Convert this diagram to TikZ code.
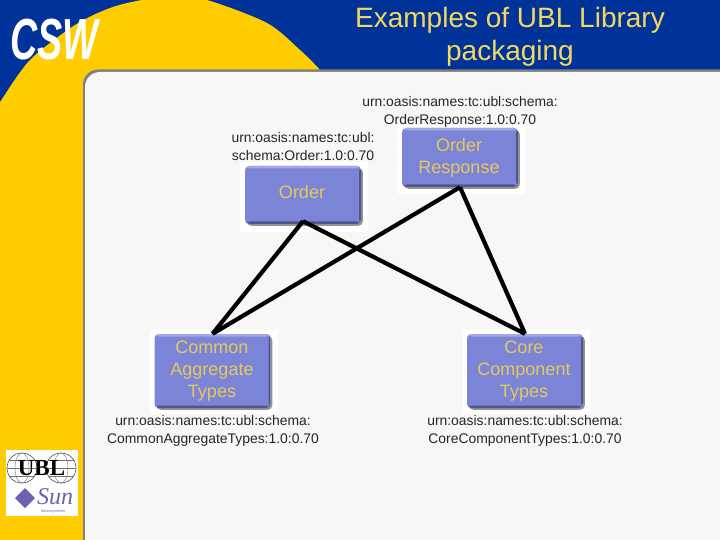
\documentclass[tikz,border=0pt]{standalone}
\usepackage{fontspec}
\setmainfont{Liberation Sans}
\newfontfamily\serifb{Liberation Serif}
\usetikzlibrary{shadows,calc}
\definecolor{bandblue}{HTML}{003399}
\definecolor{sideyellow}{HTML}{FFCC00}
\definecolor{panelgrey}{HTML}{F7F7F7}
\definecolor{boxblue}{HTML}{7B84D6}
\definecolor{boxtext}{HTML}{E6C95E}
\definecolor{titletext}{HTML}{F2D860}
\definecolor{sunpurple}{HTML}{6A62B0}
\tikzset{
  x=1pt,y=-1pt,
  ubox/.style={draw=none,fill=boxblue,rounded corners=4.5pt,
    minimum width=116pt,inner sep=0pt,
    drop shadow={shadow xshift=1.8pt,shadow yshift=-1.8pt,fill=black!70,opacity=.6},
    path picture={
      \fill[boxblue!70!white] (path picture bounding box.north west) rectangle ([yshift=-2.5pt]path picture bounding box.north east);
      \fill[boxblue!65!black] (path picture bounding box.south west) rectangle ([yshift=2.5pt]path picture bounding box.south east);
      \fill[boxblue!65!black] (path picture bounding box.south east) rectangle ([xshift=-1.8pt]path picture bounding box.north east);
    }},
  boxlabel/.style={text=boxtext,align=center,inner sep=0pt,font=\fontsize{18}{22}\selectfont},
  urn/.style={inner sep=0pt,align=center,text=black!85,font=\fontsize{13.9}{18}\selectfont},
  link/.style={line width=4.2pt,black},
  halo/.style={fill=white,draw=none},
}
\begin{document}
\begin{tikzpicture}
\useasboundingbox (0,0) rectangle (720,540);
\fill[bandblue] (0,0) rectangle (720,540);
\fill[sideyellow] plot[smooth] coordinates {(-10,116) (0,102) (30,60) (75,25) (110,8) (142,0) (175,-3) (207,0) (267,23) (300,50) (320,70) (335,90)} -- (335,540) -- (-10,540) -- cycle;
\fill[black!50,rounded corners=15pt] (83,560) -- (83,69.5) -- (740,69.5) -- (740,560) -- cycle;
\fill[panelgrey,rounded corners=15pt] (85,560) -- (85,72) -- (740,72) -- (740,560) -- cycle;
\node[text=white,font=\bfseries\itshape\fontsize{58}{58}\selectfont,xscale=.65,inner sep=0pt] (csw) at (54,40) {CSW};
\node[text=titletext,align=center,font=\fontsize{28}{33.5}\selectfont,inner sep=0pt] (title) at (510,37) {Examples of UBL Library\\packaging};
% logo
\node[fill=white,minimum width=72pt,minimum height=66pt,inner sep=0pt] (logo) at (42,483) {};
\foreach \cx in {22,61}{
  \draw[black!70,line width=.6pt] (\cx,468) circle[radius=15];
  \draw[black!55,line width=.4pt] (\cx,468) ellipse[x radius=7,y radius=15];
  \draw[black!55,line width=.4pt] (\cx-15,468) -- (\cx+15,468);
  \draw[black!55,line width=.4pt] (\cx-13,460) -- (\cx+13,460) (\cx-13,476) -- (\cx+13,476);
}
\node[font=\serifb\bfseries\fontsize{23}{23}\selectfont,inner sep=0pt] (ubl) at (41.5,468.5) {UBL};
\fill[sunpurple] (25,488) -- (35,498) -- (25,508) -- (15,498) -- cycle;
\node[font=\serifb\itshape\fontsize{24}{24}\selectfont,text=sunpurple,inner sep=0pt] (sun) at (55,497) {Sun};
\node[font=\fontsize{4}{4}\selectfont,text=sunpurple,inner sep=0pt] (micro) at (53,511) {microsystems};
% halos
\fill[halo] (240,162) rectangle (368,232);
\fill[halo] (398,125) rectangle (525,194);
\fill[halo] (150,330) rectangle (278,414);
\fill[halo] (463,330) rectangle (590,414);
% boxes
\node[ubox,minimum height=58pt] (order) at (303,195) {};
\node[ubox,minimum height=59pt] (resp) at (460,157.5) {};
\node[ubox,minimum height=74pt] (common) at (212.5,371) {};
\node[ubox,minimum height=74pt] (core) at (525,371) {};
\node[boxlabel] (ordert) at (302,192) {Order};
\node[boxlabel] (respt) at (459,158) {Order\\Response};
\node[boxlabel] (commont) at (212,371.5) {Common\\Aggregate\\Types};
\node[boxlabel] (coret) at (524,371.5) {Core\\Component\\Types};
% connectors
\draw[link] ([yshift=3pt]order.south) -- (common.north);
\draw[link] ([yshift=3pt]order.south) -- (core.north);
\draw[link] (resp.south) -- (common.north);
\draw[link] (resp.south) -- (core.north);
% labels
\node[urn] (urnresp) at (460,112) {urn:oasis:names:tc:ubl:schema:\\OrderResponse:1.0:0.70};
\node[urn] (urnorder) at (303,147) {urn:oasis:names:tc:ubl:\\schema:Order:1.0:0.70};
\node[urn] (urncommon) at (213,431) {urn:oasis:names:tc:ubl:schema:\\CommonAggregateTypes:1.0:0.70};
\node[urn] (urncore) at (525,431) {urn:oasis:names:tc:ubl:schema:\\CoreComponentTypes:1.0:0.70};
\end{tikzpicture}
\end{document}
